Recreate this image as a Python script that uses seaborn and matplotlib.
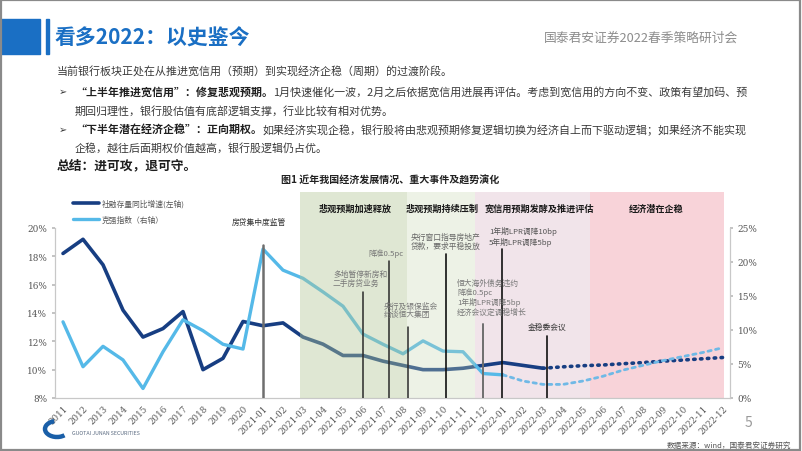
import numpy as np
import pandas as pd
import matplotlib
matplotlib.use("Agg")
import matplotlib.pyplot as plt
import seaborn as sns
from matplotlib.patches import Rectangle, Arc
from matplotlib.lines import Line2D
from matplotlib.transforms import IdentityTransform

# ---------------- data ----------------
categories = ["2011", "2012", "2013", "2014", "2015", "2016", "2017", "2018", "2019", "2020",
              "2021-01", "2021-02", "2021-03", "2021-04", "2021-05", "2021-06",
              "2021-07", "2021-08", "2021-09", "2021-10", "2021-11", "2021-12",
              "2022-01", "2022-02", "2022-03", "2022-04", "2022-05", "2022-06",
              "2022-07", "2022-08", "2022-09", "2022-10", "2022-11", "2022-12"]

# 社融存量同比增速 (left axis, %), actual up to 2022-03
tsf_actual = [18.2, 19.2, 17.4, 14.2, 12.3, 12.9, 14.1, 10.0, 10.8, 13.4,
              13.1, 13.3, 12.3, 11.8, 11.0, 11.0, 10.6, 10.3, 10.0, 10.0,
              10.1, 10.3, 10.5, 10.3, 10.1]
# forecast 2022-03 .. 2022-12
tsf_forecast = [10.1, 10.2, 10.28, 10.33, 10.42, 10.5, 10.6, 10.68, 10.77, 10.86]

# 克强指数 (right axis, %), actual up to 2022-01
lki_actual = [11.2, 4.6, 7.6, 5.6, 1.4, 6.8, 11.5, 9.9, 7.9, 7.2,
              21.9, 18.8, 17.6, 15.6, 13.5, 9.4, 7.9, 6.5, 8.4, 6.9,
              6.8, 3.6, 3.4]
# forecast 2022-01 .. 2022-12
lki_forecast = [3.4, 2.5, 2.0, 2.0, 2.5, 3.2, 4.1, 4.8, 5.5, 6.1, 6.7, 7.4]

left_ticks = [8, 10, 12, 14, 16, 18, 20]
right_ticks = [0, 5, 10, 15, 20, 25]

phase_names = ["悲观预期加速释放", "悲观预期持续压制", "宽信用预期发酵及推进评估", "经济潜在企稳"]
phase_bounds = [11.85, 17.2, 20.6, 26.35, 33.05]

event_texts = ["房贷集中度监管", "多地暂停新房和\n二手房贷业务", "降准0.5pc",
               "央行及银保监会\n约谈恒大集团", "央行窗口指导房地产\n贷款，要求平稳投放",
               "恒大海外债务违约\n降准0.5pc\n1年期LPR调降5bp\n经济会议定调稳增长",
               "1年期LPR调降10bp\n5年期LPR调降5bp", "金稳委会议"]
event_dates = [10, 15, 16.3, 17.25, 19.15, 21.0, 21.95, 24.2]

# ---------------- style ----------------
sns.set_theme(style="white")
plt.rcParams["font.family"] = ["Noto Sans CJK SC", "DejaVu Sans"]
plt.rcParams["axes.unicode_minus"] = False

W, H = 802, 452
fig = plt.figure(figsize=(W / 100, H / 100), dpi=100)
fig.patch.set_facecolor("white")


def P(x, y):
    return x / W, 1 - y / H


DARK = "#173e82"
LIGHT = "#55b9e8"
BLUE = "#1a6fc4"

# ---------------- slide decorations ----------------
fig.patches.append(Rectangle(P(0, 55), 40 / W, 35 / H, transform=fig.transFigure,
                             color=BLUE, zorder=1))
fig.patches.append(Rectangle(P(46, 55), 3 / W, 35 / H, transform=fig.transFigure,
                             color=BLUE, zorder=1))
fig.patches.append(Rectangle((0.001, 0.002), 0.997, 0.996, transform=fig.transFigure,
                             fill=False, edgecolor="#8a8a8a", lw=1.6, zorder=10))

fig.text(*P(55, 38), "看多2022：以史鉴今", fontsize=15, fontweight="bold",
         color=BLUE, va="center", ha="left")
fig.text(*P(738, 38), "国泰君安证券2022春季策略研讨会", fontsize=9.2,
         color="#8c8c8c", va="center", ha="right")

renderer = fig.canvas.get_renderer()


def rich(x, y, parts, size=7.9):
    cx = x
    for s, bold in parts:
        t = fig.text(*P(cx, y), s, fontsize=size,
                     fontweight="bold" if bold else "normal",
                     color="#1e1e1e" if bold else "#3a3a3a", va="center", ha="left")
        cx += t.get_window_extent(renderer).width


rich(57, 72, [("当前银行板块正处在从推进宽信用（预期）到实现经济企稳（周期）的过渡阶段。", False)])
fig.text(*P(59, 92), "➢", fontsize=7, family=["DejaVu Sans"], color="#3a3a3a", va="center")
rich(75, 92, [("“上半年推进宽信用”：修复悲观预期。", True),
              ("1月快速催化一波，2月之后依据宽信用进展再评估。考虑到宽信用的方向不变、政策有望加码、预", False)])
rich(75, 111, [("期回归理性，银行股估值有底部逻辑支撑，行业比较有相对优势。", False)])
fig.text(*P(59, 130), "➢", fontsize=7, family=["DejaVu Sans"], color="#3a3a3a", va="center")
rich(75, 130, [("“下半年潜在经济企稳”：正向期权。", True),
               ("如果经济实现企稳，银行股将由悲观预期修复逻辑切换为经济自上而下驱动逻辑；如果经济不能实现", False)])
rich(75, 148, [("企稳，越往后面期权价值越高，银行股逻辑仍占优。", False)])
rich(57, 166, [("总结：进可攻，退可守。", True)], size=9.2)

fig.text(*P(390, 181), "图1 近年我国经济发展情况、重大事件及趋势演化", fontsize=7.2,
         fontweight="bold", color="#222222", ha="center", va="center")

# ---------------- chart ----------------
ax = fig.add_axes([55 / W, 1 - 399 / H, 675 / W, 206 / H])
ax2 = ax.twinx()
ax2.patch.set_visible(False)

x = np.arange(len(categories))
df_tsf = pd.DataFrame({"x": x[:len(tsf_actual)], "v": tsf_actual})
df_tsf_f = pd.DataFrame({"x": x[len(tsf_actual) - 1:], "v": tsf_forecast})
df_lki = pd.DataFrame({"x": x[:len(lki_actual)], "v": lki_actual})
df_lki_f = pd.DataFrame({"x": x[len(lki_actual) - 1:], "v": lki_forecast})

# phase backgrounds (pink ones under the lines)
ax.axvspan(phase_bounds[2], phase_bounds[3], color="#f1e4ea", lw=0, zorder=0)
ax.axvspan(phase_bounds[3], phase_bounds[4], color="#f8d3d9", lw=0, zorder=0)

sns.lineplot(data=df_tsf, x="x", y="v", ax=ax, color=DARK, linewidth=2.6,
             legend=False, solid_capstyle="round", solid_joinstyle="round", zorder=3)
sns.lineplot(data=df_tsf_f, x="x", y="v", ax=ax, color=DARK, linewidth=2.6,
             linestyle=(0, (0.4, 1.5)), dash_capstyle="round", legend=False, zorder=3)

sns.lineplot(data=df_lki, x="x", y="v", ax=ax2, color=LIGHT, linewidth=2.4,
             legend=False, solid_capstyle="round", solid_joinstyle="round", zorder=2)
sns.lineplot(data=df_lki_f, x="x", y="v", ax=ax2, color="#6fb9e6", linewidth=2.0,
             linestyle=(0, (1.2, 1.6)), dash_capstyle="round", legend=False, zorder=2)

# green phases overlay the lines
ax2.axvspan(phase_bounds[0], phase_bounds[1], color="#b4c896", alpha=0.42, lw=0, zorder=4)
ax2.axvspan(phase_bounds[1], phase_bounds[2], color="#c8d8b4", alpha=0.32, lw=0, zorder=4)

# event lines
event_tops = [246, 293, 262, 328, 255, 325, 250, 337]
event_colors = ["#6e6e6e", "#2a2a2a", "#2a2a2a", "#2a2a2a", "#111111", "#6e6e6e", "#111111", "#111111"]
event_lw = [1.8, 1.1, 1.1, 1.1, 1.2, 1.4, 1.2, 1.2]
for d, top, c, lw in zip(event_dates, event_tops, event_colors, event_lw):
    ax2.axvline(d, ymin=0, ymax=(399 - top) / 206, color=c, lw=lw, zorder=6)

# axes limits/ticks
ax.set_xlim(-0.4, 33.35)
ax.set_ylim(8, 8 + 206 / 14.17)
ax2.set_ylim(0, 206 / 6.8)
ax.set_xlabel("")
ax.set_ylabel("")
ax2.set_ylabel("")
ax.set_xticks(x)
ax.set_xticklabels(categories, rotation=45, ha="right", rotation_mode="anchor",
                   fontsize=6.2, family="DejaVu Serif", color="#555555")
ax.set_yticks(left_ticks)
ax.set_yticklabels([f"{t}%" for t in left_ticks], fontsize=6.4, family="DejaVu Serif", color="#555555")
ax2.set_yticks(right_ticks)
ax2.set_yticklabels([f"{t}%" for t in right_ticks], fontsize=6.4, family="DejaVu Serif", color="#555555")
ax.tick_params(axis="x", length=0, pad=4)
ax.tick_params(axis="y", length=2.5, color="#bbbbbb", pad=3, left=True)
ax2.tick_params(axis="y", length=2.5, color="#bbbbbb", pad=3, right=True)

for a in (ax, ax2):
    a.spines["top"].set_visible(False)
    for s in ("left", "right", "bottom"):
        a.spines[s].set_color("#c8c8c8")
        a.spines[s].set_linewidth(0.9)
    a.grid(False)
ax.spines["right"].set_visible(False)
ax2.spines["left"].set_visible(False)
ax2.spines["bottom"].set_visible(False)
ax.spines["left"].set_bounds(8, 20)
ax2.spines["right"].set_bounds(0, 25)

# legend
handles = [Line2D([], [], color=DARK, lw=2.6), Line2D([], [], color=LIGHT, lw=2.4)]
fig.legend(handles, ["社融存量同比增速(左轴)", "克强指数（右轴）"], loc="upper left",
           bbox_to_anchor=P(66, 193), frameon=False, fontsize=5.6, handlelength=3.4,
           handletextpad=0.3, labelspacing=1.1, labelcolor="#555555")

# phase labels
phase_centers_px = [355, 442, 539, 656]
for name, cx in zip(phase_names, phase_centers_px):
    fig.text(*P(cx, 209), name, fontsize=6.6, fontweight="bold", color="#1a1a1a",
             ha="center", va="center", zorder=7)

# event labels: (x, y, ha, color)
event_label_pos = [(259, 223, "center", "#333333"), (333, 279, "left", "#777777"),
                   (386, 254, "center", "#777777"), (384, 311, "left", "#777777"),
                   (411, 242, "left", "#666666"), (457, 298, "left", "#777777"),
                   (489, 237, "left", "#555555"), (547, 328, "center", "#333333")]
for txt, (lx, ly, ha, c) in zip(event_texts, event_label_pos):
    fig.text(*P(lx, ly), txt, fontsize=5.6, color=c, ha=ha, va="center",
             linespacing=1.15, zorder=7)

# footer
fig.text(*P(748, 423), "5", fontsize=10, color="#9a9a9a", ha="center", va="center")
fig.text(*P(791, 446), "数据来源：wind，国泰君安证券研究", fontsize=5.5, color="#555555",
         ha="right", va="center")
logo = Arc((57, H - 430), 24, 16, theta1=110, theta2=320, lw=3.2, color="#1a5fa8",
           transform=IdentityTransform())
fig.patches.append(logo)
fig.text(*P(72, 434), "GUOTAI JUNAN SECURITIES", fontsize=3.8, color="#5a6a80",
         ha="left", va="center")

fig.savefig("out.png", dpi=100)
